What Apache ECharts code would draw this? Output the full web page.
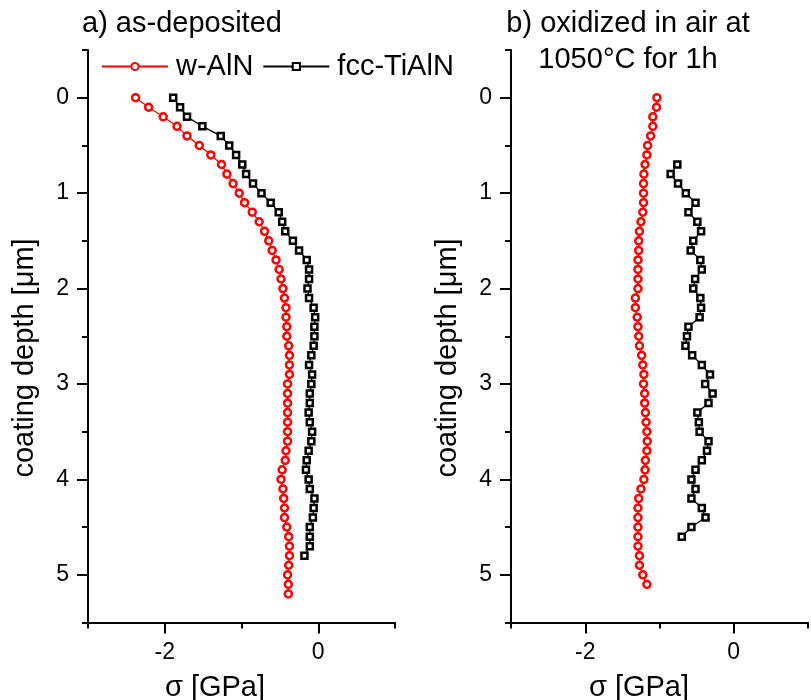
<!DOCTYPE html>
<html>
<head>
<meta charset="utf-8">
<script src="https://cdn.jsdelivr.net/npm/echarts@6/dist/echarts.min.js"></script>
<style>
  html, body { margin: 0; padding: 0; background: #fff; }
  #chart { width: 811px; height: 700px; }
</style>
</head>
<body>
<div id="chart"></div>
<script>
// depth [µm] and stress [GPa]
const depthAlnA = [0, 0.1, 0.2, 0.3, 0.4, 0.5, 0.6, 0.7, 0.8, 0.9, 1.0, 1.1, 1.2, 1.3, 1.4, 1.5, 1.6, 1.7, 1.8, 1.9,
  2.0, 2.1, 2.2, 2.3, 2.4, 2.5, 2.6, 2.7, 2.8, 2.9, 3.0, 3.1, 3.2, 3.3, 3.4, 3.5, 3.6, 3.7, 3.8, 3.9,
  4.0, 4.1, 4.2, 4.3, 4.4, 4.5, 4.6, 4.7, 4.8, 4.9, 5.0, 5.1, 5.2];
const sigmaAlnA = [-2.38, -2.21, -2.02, -1.84, -1.71, -1.55, -1.40, -1.26, -1.19, -1.11, -1.03, -0.96, -0.86, -0.77, -0.70,
  -0.645, -0.60, -0.55, -0.51, -0.485, -0.46, -0.44, -0.42, -0.42, -0.41, -0.41, -0.385, -0.375, -0.375, -0.375,
  -0.40, -0.40, -0.40, -0.40, -0.40, -0.40, -0.40, -0.42, -0.43, -0.47, -0.485, -0.46, -0.45, -0.44, -0.44,
  -0.41, -0.385, -0.375, -0.375, -0.385, -0.40, -0.39, -0.39];

const depthTiA = [0, 0.1, 0.2, 0.3, 0.4, 0.5, 0.6, 0.7, 0.8, 0.9, 1.0, 1.1, 1.2, 1.3, 1.4, 1.5, 1.6, 1.7, 1.8, 1.9,
  2.0, 2.1, 2.2, 2.3, 2.4, 2.5, 2.6, 2.7, 2.8, 2.9, 3.0, 3.1, 3.2, 3.3, 3.4, 3.5, 3.6, 3.7, 3.8, 3.9,
  4.0, 4.1, 4.2, 4.3, 4.4, 4.5, 4.6, 4.7, 4.8];
const sigmaTiA = [-1.89, -1.80, -1.71, -1.51, -1.27, -1.16, -1.07, -0.99, -0.94, -0.85, -0.74, -0.62, -0.515, -0.47, -0.43,
  -0.33, -0.25, -0.15, -0.12, -0.12, -0.14, -0.12, -0.06, -0.04, -0.05, -0.05, -0.06, -0.09, -0.12, -0.08,
  -0.09, -0.11, -0.11, -0.125, -0.11, -0.08, -0.09, -0.125, -0.15, -0.16, -0.125, -0.11, -0.05, -0.06, -0.07,
  -0.11, -0.11, -0.11, -0.18];

const depthAlnB = [0, 0.1, 0.2, 0.3, 0.4, 0.5, 0.6, 0.7, 0.8, 0.9, 1.0, 1.1, 1.2, 1.3, 1.4, 1.5, 1.6, 1.7, 1.8, 1.9,
  2.0, 2.1, 2.2, 2.3, 2.4, 2.5, 2.6, 2.7, 2.8, 2.9, 3.0, 3.1, 3.2, 3.3, 3.4, 3.5, 3.6, 3.7, 3.8, 3.9,
  4.0, 4.1, 4.2, 4.3, 4.4, 4.5, 4.6, 4.7, 4.8, 4.9, 5.0, 5.1];
const sigmaAlnB = [-1.035, -1.04, -1.09, -1.09, -1.12, -1.16, -1.17, -1.195, -1.21, -1.215, -1.215, -1.215, -1.225, -1.25,
  -1.27, -1.28, -1.28, -1.29, -1.29, -1.29, -1.29, -1.325, -1.325, -1.30, -1.29, -1.28, -1.27, -1.24, -1.225,
  -1.21, -1.215, -1.20, -1.20, -1.19, -1.18, -1.17, -1.165, -1.17, -1.19, -1.195, -1.21, -1.25, -1.28, -1.29,
  -1.29, -1.29, -1.29, -1.29, -1.27, -1.27, -1.225, -1.17];

const depthTiB = [0.7, 0.8, 0.9, 1.0, 1.1, 1.2, 1.3, 1.4, 1.5, 1.6, 1.7, 1.8, 1.9, 2.0, 2.1, 2.2, 2.3, 2.4, 2.5, 2.6,
  2.7, 2.8, 2.9, 3.0, 3.1, 3.2, 3.3, 3.4, 3.5, 3.6, 3.7, 3.8, 3.9, 4.0, 4.1, 4.2, 4.3, 4.4, 4.5, 4.6];
const sigmaTiB = [-0.76, -0.85, -0.75, -0.645, -0.515, -0.61, -0.49, -0.44, -0.545, -0.58, -0.45, -0.43, -0.52, -0.545,
  -0.45, -0.44, -0.46, -0.61, -0.63, -0.65, -0.56, -0.43, -0.32, -0.385, -0.285, -0.34, -0.49, -0.47, -0.46,
  -0.34, -0.36, -0.43, -0.515, -0.57, -0.515, -0.57, -0.43, -0.38, -0.57, -0.70];

const seriesNames = ["w-AlN", "fcc-TiAlN"];
const xMajorTicks = [-2, 0];
const yMajorTicks = [0, 1, 2, 3, 4, 5];

const FONT = '"Liberation Sans", Arial, sans-serif';

const chart = echarts.init(document.getElementById("chart"), null, { renderer: "canvas" });

function pairs(xs, ys) {
  return xs.map(function (x, i) { return [x, ys[i]]; });
}

// main x axis: line + short ticks every 1, labels only at -2 and 0
function xMain(grid) {
  return {
    type: "value", gridIndex: grid, position: "bottom",
    min: -3, max: 1, interval: 1,
    axisLine: { show: true, onZero: false, lineStyle: { color: "#000", width: 2 } },
    axisTick: { show: true, length: 6, lineStyle: { color: "#000", width: 2 } },
    axisLabel: {
      color: "#000", fontSize: 23, fontFamily: FONT, margin: 19,
      formatter: function (v) { return xMajorTicks.indexOf(v) >= 0 ? String(v) : ""; }
    },
    splitLine: { show: false }
  };
}
// second x axis only draws the long major ticks
function xMajor(grid) {
  return {
    type: "value", gridIndex: grid, position: "bottom",
    min: -3, max: 1, interval: 1,
    axisLine: { show: false, onZero: false },
    axisTick: { show: true, length: 11, customValues: xMajorTicks, lineStyle: { color: "#000", width: 2 } },
    axisLabel: { show: false },
    splitLine: { show: false }
  };
}
function yMain(grid) {
  return {
    type: "value", gridIndex: grid, position: "left", inverse: true,
    min: -0.5, max: 5.5, interval: 0.5,
    axisLine: { show: true, onZero: false, lineStyle: { color: "#000", width: 2 } },
    axisTick: { show: true, length: 6, lineStyle: { color: "#000", width: 2 } },
    axisLabel: {
      color: "#000", fontSize: 23, fontFamily: FONT, margin: 19,
      formatter: function (v) { return yMajorTicks.indexOf(v) >= 0 ? String(v) : ""; }
    },
    splitLine: { show: false }
  };
}
function yMajor(grid) {
  return {
    type: "value", gridIndex: grid, position: "left", inverse: true,
    min: -0.5, max: 5.5, interval: 0.5,
    axisLine: { show: false, onZero: false },
    axisTick: { show: true, length: 11, customValues: yMajorTicks, lineStyle: { color: "#000", width: 2 } },
    axisLabel: { show: false },
    splitLine: { show: false }
  };
}

function alnSeries(name, xi, yi, data) {
  return {
    name: name, type: "line", xAxisIndex: xi, yAxisIndex: yi, data: data,
    symbol: "circle", symbolSize: 7, showSymbol: true,
    lineStyle: { color: "#ff0000", width: 1.3 },
    itemStyle: { color: "#fff", borderColor: "#ff0000", borderWidth: 2.5 },
    emphasis: { disabled: true }, animation: false
  };
}
function tiSeries(name, xi, yi, data) {
  return {
    name: name, type: "line", xAxisIndex: xi, yAxisIndex: yi, data: data,
    symbol: "rect", symbolSize: 6, showSymbol: true,
    lineStyle: { color: "#000", width: 1.3 },
    itemStyle: { color: "#fff", borderColor: "#000", borderWidth: 2.5 },
    emphasis: { disabled: true }, animation: false
  };
}

function txt(x, y, s, align, rot) {
  return {
    type: "text", x: x, y: y, rotation: rot || 0, silent: true,
    style: {
      text: s, fill: "#000", font: '29px ' + FONT,
      textAlign: align || "center", textVerticalAlign: "middle"
    }
  };
}

const option = {
  backgroundColor: "#fff",
  animation: false,
  grid: [
    { left: 88, right: 416, top: 50, bottom: 77.5, containLabel: false },
    { left: 511, right: -8, top: 50, bottom: 77.5, containLabel: false }
  ],
  xAxis: [xMain(0), xMajor(0), xMain(1), xMajor(1)],
  yAxis: [yMain(0), yMajor(0), yMain(1), yMajor(1)],
  legend: {
    data: seriesNames,
    left: 96, top: 47,
    itemWidth: 66, itemHeight: 9, itemGap: 9,
    textStyle: { color: "#000", fontSize: 29, fontFamily: FONT, padding: [0, 0, 0, 3] }
  },
  graphic: [
    txt(82, 24, "a) as-deposited", "left"),
    txt(628, 24, "b) oxidized in air at"),
    txt(628, 60, "1050°C for 1h"),
    txt(215, 688, "σ [GPa]"),
    txt(639, 688, "σ [GPa]"),
    txt(25, 358, "coating depth [μm]", "center", Math.PI / 2),
    txt(448, 358, "coating depth [μm]", "center", Math.PI / 2)
  ],
  series: [
    alnSeries(seriesNames[0], 0, 0, pairs(sigmaAlnA, depthAlnA)),
    tiSeries(seriesNames[1], 0, 0, pairs(sigmaTiA, depthTiA)),
    alnSeries(seriesNames[0], 2, 2, pairs(sigmaAlnB, depthAlnB)),
    tiSeries(seriesNames[1], 2, 2, pairs(sigmaTiB, depthTiB))
  ]
};

option && chart.setOption(option);
</script>
</body>
</html>
